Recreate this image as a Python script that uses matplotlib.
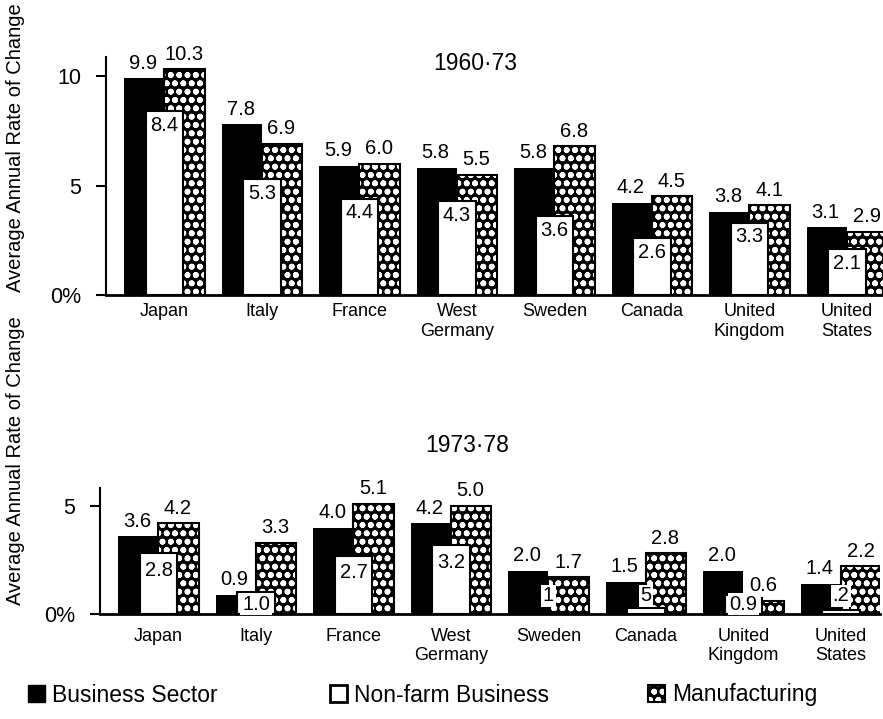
import numpy as np
import matplotlib
matplotlib.use('Agg')
import matplotlib.pyplot as plt
from matplotlib.patches import Patch

countries = ['Japan', 'Italy', 'France', 'West\nGermany', 'Sweden', 'Canada',
             'United\nKingdom', 'United\nStates']

# 1960-73
business_6073 = [9.9, 7.8, 5.9, 5.8, 5.8, 4.2, 3.8, 3.1]
nonfarm_6073 = [8.4, 5.3, 4.4, 4.3, 3.6, 2.6, 3.3, 2.1]
manuf_6073 = [10.3, 6.9, 6.0, 5.5, 6.8, 4.5, 4.1, 2.9]

# 1973-78
business_7378 = [3.6, 0.9, 4.0, 4.2, 2.0, 1.5, 2.0, 1.4]
nonfarm_7378 = [2.8, 1.0, 2.7, 3.2, 0.1, 0.3, 0.9, 0.2]
manuf_7378 = [4.2, 3.3, 5.1, 5.0, 1.7, 2.8, 0.6, 2.2]
# labels of the white bars as printed (the small ones are partly hidden)
nonfarm_7378_text = ['2.8', '1.0', '2.7', '3.2', '1', '5', '0.9', '.2']

plt.rcParams['font.family'] = ['Liberation Sans', 'DejaVu Sans']
plt.rcParams['hatch.linewidth'] = 1.8

W, H = 883, 719


def draw_panel(ax, black, white, manuf, white_text, ymax, ticks, tick_labels,
               white_off, label_pad):
    x = np.arange(len(black))
    ax.bar(x - 0.21, black, width=0.41, color='black', linewidth=0, zorder=2)
    ax.bar(x + 0.205, manuf, width=0.42, color='black', edgecolor='white',
           hatch='oo', linewidth=0, zorder=3)
    ax.bar(x + 0.205, manuf, width=0.42, fill=False, edgecolor='black',
           linewidth=1.5, zorder=3.1)
    ax.bar(x, white, width=0.38, color='white', edgecolor='black',
           linewidth=1.5, zorder=4)

    box = dict(boxstyle='square,pad=0.08', fc='white', ec='none')
    for i in range(len(black)):
        ax.annotate(f'{black[i]:.1f}', (x[i] - 0.22, black[i]), xytext=(0, 4),
                    textcoords='offset points', ha='center', va='bottom',
                    fontsize=14.5, bbox=box, zorder=6)
        ax.annotate(f'{manuf[i]:.1f}', (x[i] + 0.2, manuf[i]), xytext=(0, 4),
                    textcoords='offset points', ha='center', va='bottom',
                    fontsize=14.5, bbox=box, zorder=6)
        if white[i] < 0.5:
            yl = 0.85
        else:
            yl = max(white[i] - white_off, 0.45)
        ax.text(x[i], yl, white_text[i], ha='center', va='center',
                fontsize=14.5, bbox=box, zorder=6)

    ax.set_xlim(-0.6, 7.4)
    ax.set_ylim(0, ymax)
    ax.set_yticks(ticks)
    ax.set_yticklabels(tick_labels, fontsize=15.5)
    ax.set_xticks(x)
    ax.set_xticklabels(countries, fontsize=13)
    ax.tick_params(axis='x', length=0, pad=label_pad)
    ax.tick_params(axis='y', direction='out', length=7, width=1.5, pad=11)
    for s in ['top', 'right']:
        ax.spines[s].set_visible(False)
    ax.spines['left'].set_linewidth(1.5)
    ax.spines['bottom'].set_linewidth(2)


fig = plt.figure(figsize=(W / 100, H / 100), dpi=100)
ax1 = fig.add_axes([106 / W, 1 - 295 / H, 780 / W, 238 / H])
ax2 = fig.add_axes([100 / W, 1 - 614 / H, 780 / W, 126 / H])

draw_panel(ax1, business_6073, nonfarm_6073, manuf_6073,
           [f'{v:.1f}' for v in nonfarm_6073], 10.87, [0, 5, 10],
           ['0%', '5', '10'], 0.65, 6)
draw_panel(ax2, business_7378, nonfarm_7378, manuf_7378, nonfarm_7378_text,
           5.83, [0, 5], ['0%', '5'], 0.8, 10)

ax1.set_ylabel('Average Annual Rate of Change', fontsize=14.5)
ax1.yaxis.set_label_coords(-0.104, 0.62)
ax2.set_ylabel('Average Annual Rate of Change', fontsize=14.5)
ax2.yaxis.set_label_coords(-0.096, 1.22)

fig.text(475 / W, 1 - 63 / H, '1960\u00b773', ha='center', va='center',
         fontsize=16.5)
fig.text(467 / W, 1 - 445 / H, '1973\u00b778', ha='center', va='center',
         fontsize=16.5)

# legend, one entry at a time
h_black = Patch(facecolor='black', edgecolor='black')
h_white = Patch(facecolor='white', edgecolor='black', linewidth=2)
h_manuf = (Patch(facecolor='black', edgecolor='white', hatch='oo', linewidth=0),
           Patch(fill=False, edgecolor='black', linewidth=1.5))
entries = [(h_black, 'Business Sector', 28), (h_white, 'Non-farm Business', 330),
           (h_manuf, 'Manufacturing', 648)]
for h, lab, xp in entries:
    fig.legend([h], [lab], loc='center left', bbox_to_anchor=(xp / W, 1 - 695 / H),
               frameon=False, fontsize=16.5, handlelength=0.75, handleheight=0.75,
               handletextpad=0.3, borderpad=0, borderaxespad=0)

fig.savefig('out.png', dpi=100)
